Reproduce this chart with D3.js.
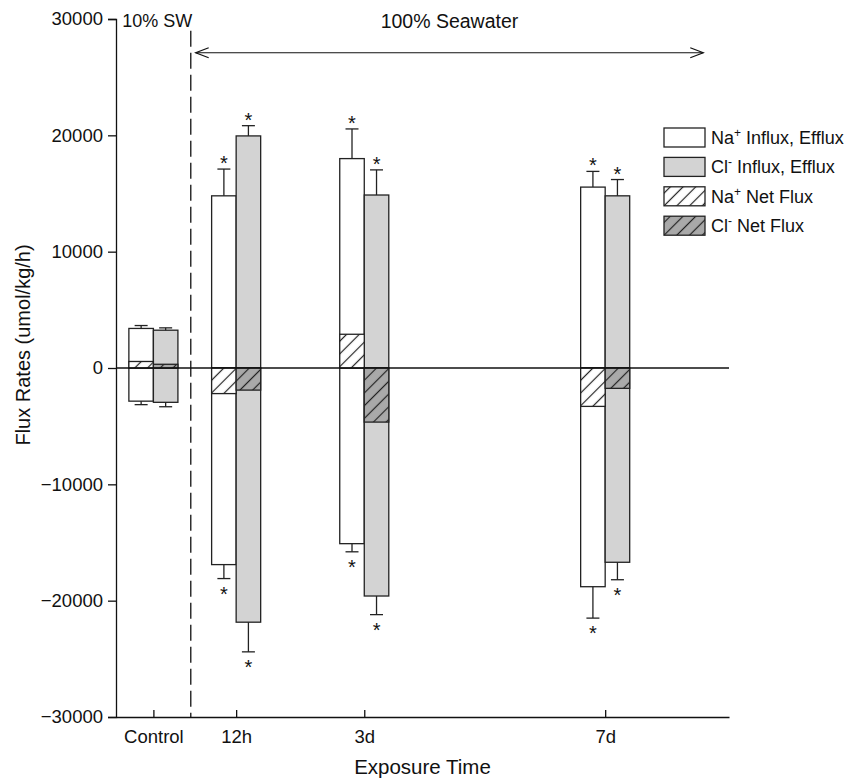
<!DOCTYPE html>
<html>
<head>
<meta charset="utf-8">
<script src="https://cdn.jsdelivr.net/npm/d3@7"></script>
<style>
  body { margin: 0; background: #fff; }
  text { font-family: "Liberation Sans", Arial, Helvetica, sans-serif; fill: #111; }
</style>
</head>
<body>
<div id="chart"></div>
<script>
// data (umol/kg/h)
var groups = ["Control", "12h", "3d", "7d"];
var groupPos = [0.61, 1.96, 4.05, 7.98];   // position of each group on the time axis
var naInflux = [3400, 14800, 18000, 15550];
var naInfluxErr = [250, 2300, 2550, 1350];
var naEfflux = [-2850, -16900, -15100, -18800];
var naEffluxErr = [300, 1200, 700, 2700];
var clInflux = [3250, 19950, 14870, 14800];
var clInfluxErr = [200, 880, 2160, 1400];
var clEfflux = [-2950, -21850, -19600, -16700];
var clEffluxErr = [380, 2550, 1600, 1500];
var naNet = [560, -2200, 2900, -3300];
var clNet = [320, -1900, -4650, -1750];
var significant = [false, true, true, true];
var yTicks = [-30000, -20000, -10000, 0, 10000, 20000, 30000];
var legendItems = [
  {ion: "Na", sup: "+", label: " Influx, Efflux", fill: "#fff"},
  {ion: "Cl", sup: "-", label: " Influx, Efflux", fill: "#d3d3d3"},
  {ion: "Na", sup: "+", label: " Net Flux", fill: "url(#hatchWhite)"},
  {ion: "Cl", sup: "-", label: " Net Flux", fill: "url(#hatchGray)"}
];

var width = 851, height = 778;
var margin = {top: 19, right: 122, bottom: 61, left: 116};

var svg = d3.select("#chart").append("svg")
  .attr("width", width)
  .attr("height", height);

// hatch patterns
var defs = svg.append("defs");
[["hatchWhite", "#fff"], ["hatchGray", "#a9a9a9"]].forEach(function(p) {
  var pat = defs.append("pattern")
    .attr("id", p[0])
    .attr("patternUnits", "userSpaceOnUse")
    .attr("width", 9).attr("height", 9)
    .attr("patternTransform", "rotate(45)");
  pat.append("rect").attr("width", 9).attr("height", 9).attr("fill", p[1]);
  pat.append("line")
    .attr("x1", 4.5).attr("y1", -1).attr("x2", 4.5).attr("y2", 10)
    .attr("stroke", "#222").attr("stroke-width", 1.2);
});

var x = d3.scaleLinear()
  .domain([0, 10])
  .range([margin.left, width - margin.right]);

var y = d3.scaleLinear()
  .domain([-30000, 30000])
  .range([height - margin.bottom, margin.top]);

var barW = x(0.4) - x(0);

// axes
var yAxis = svg.append("g")
  .attr("transform", "translate(" + margin.left + ",0)")
  .call(d3.axisLeft(y).tickValues(yTicks).tickFormat(d3.format("d")).tickSize(8).tickPadding(5));
yAxis.select(".domain").attr("stroke", "#111").attr("stroke-width", 1.3);
yAxis.selectAll(".tick line").attr("stroke", "#111").attr("stroke-width", 1.3);
yAxis.selectAll("text").style("font-size", "18.5px").attr("fill", "#111");

var xAxis = svg.append("g")
  .attr("transform", "translate(0," + y(-30000) + ")")
  .call(d3.axisBottom(x).tickValues(groupPos).tickFormat(function(d, i) { return groups[i]; })
    .tickSizeInner(-7).tickSizeOuter(0).tickPadding(13));
xAxis.select(".domain").attr("stroke", "#111").attr("stroke-width", 1.3);
xAxis.selectAll(".tick line").attr("stroke", "#111").attr("stroke-width", 1.3);
xAxis.selectAll("text").style("font-size", "18.5px").attr("fill", "#111");

// axis titles
svg.append("text")
  .attr("x", (margin.left + width - margin.right) / 2)
  .attr("y", 774)
  .attr("text-anchor", "middle")
  .style("font-size", "20.5px")
  .text("Exposure Time");

svg.append("text")
  .attr("transform", "translate(30," + 345 + ") rotate(-90)")
  .attr("text-anchor", "middle")
  .style("font-size", "20px")
  .text("Flux Rates (umol/kg/h)");

// seawater divider and arrow
svg.append("line")
  .attr("x1", x(1.22)).attr("x2", x(1.22))
  .attr("y1", y(29000)).attr("y2", y(-30000))
  .attr("stroke", "#111").attr("stroke-width", 1.3)
  .attr("stroke-dasharray", "16,6");

svg.append("text")
  .attr("x", x(0.1)).attr("y", 27)
  .style("font-size", "18px")
  .text("10% SW");

svg.append("text")
  .attr("x", x(5.44)).attr("y", 28)
  .attr("text-anchor", "middle")
  .style("font-size", "19.5px")
  .text("100% Seawater");

var ay = y(27100), ax1 = x(1.3), ax2 = x(9.58);
svg.append("line")
  .attr("x1", ax1).attr("x2", ax2).attr("y1", ay).attr("y2", ay)
  .attr("stroke", "#111").attr("stroke-width", 1.2);
svg.append("path")
  .attr("d", "M" + (ax1 + 13) + "," + (ay - 5) + "L" + ax1 + "," + ay + "L" + (ax1 + 13) + "," + (ay + 5) +
             "M" + (ax2 - 13) + "," + (ay - 5) + "L" + ax2 + "," + ay + "L" + (ax2 - 13) + "," + (ay + 5))
  .attr("fill", "none").attr("stroke", "#111").attr("stroke-width", 1.2);

// bars: Na on the left half of each group, Cl on the right
var bars = [];
groups.forEach(function(g, i) {
  bars.push({i: i, side: -1, v: naInflux[i], err: naInfluxErr[i], fill: "#fff"});
  bars.push({i: i, side: -1, v: naEfflux[i], err: -naEffluxErr[i], fill: "#fff"});
  bars.push({i: i, side: 0, v: clInflux[i], err: clInfluxErr[i], fill: "#d3d3d3"});
  bars.push({i: i, side: 0, v: clEfflux[i], err: -clEffluxErr[i], fill: "#d3d3d3"});
});

function barX(d) { return x(groupPos[d.i]) + d.side * barW; }

svg.selectAll(".bar")
  .data(bars)
  .enter().append("rect")
  .attr("class", "bar")
  .attr("x", barX)
  .attr("y", function(d) { return y(Math.max(0, d.v)); })
  .attr("width", barW)
  .attr("height", function(d) { return Math.abs(y(d.v) - y(0)); })
  .attr("fill", function(d) { return d.fill; })
  .attr("stroke", "#222").attr("stroke-width", 1.3);

// net flux, hatched
var nets = [];
groups.forEach(function(g, i) {
  nets.push({i: i, side: -1, v: naNet[i], fill: "url(#hatchWhite)"});
  nets.push({i: i, side: 0, v: clNet[i], fill: "url(#hatchGray)"});
});

svg.selectAll(".net")
  .data(nets)
  .enter().append("rect")
  .attr("class", "net")
  .attr("x", barX)
  .attr("y", function(d) { return y(Math.max(0, d.v)); })
  .attr("width", barW)
  .attr("height", function(d) { return Math.abs(y(d.v) - y(0)); })
  .attr("fill", function(d) { return d.fill; })
  .attr("stroke", "#222").attr("stroke-width", 1.3);

// error bars
var eb = svg.selectAll(".err")
  .data(bars)
  .enter().append("g")
  .attr("class", "err");
eb.append("line")
  .attr("x1", function(d) { return barX(d) + barW / 2; })
  .attr("x2", function(d) { return barX(d) + barW / 2; })
  .attr("y1", function(d) { return y(d.v); })
  .attr("y2", function(d) { return y(d.v + d.err); })
  .attr("stroke", "#222").attr("stroke-width", 1.3);
eb.append("line")
  .attr("x1", function(d) { return barX(d) + barW / 2 - 6.5; })
  .attr("x2", function(d) { return barX(d) + barW / 2 + 6.5; })
  .attr("y1", function(d) { return y(d.v + d.err); })
  .attr("y2", function(d) { return y(d.v + d.err); })
  .attr("stroke", "#222").attr("stroke-width", 1.3);

// significance stars
svg.selectAll(".star")
  .data(bars.filter(function(d) { return significant[d.i]; }))
  .enter().append("text")
  .attr("class", "star")
  .attr("x", function(d) { return barX(d) + barW / 2; })
  .attr("y", function(d) { return y(d.v + d.err) + (d.v > 0 ? 1 : 22); })
  .attr("text-anchor", "middle")
  .style("font-size", "20px")
  .attr("fill", "#333")
  .text("*");

// zero line
svg.append("line")
  .attr("x1", x(0)).attr("x2", x(10))
  .attr("y1", y(0)).attr("y2", y(0))
  .attr("stroke", "#111").attr("stroke-width", 1.5);

// legend
var legend = svg.append("g").attr("transform", "translate(664,128)");
var li = legend.selectAll(".item")
  .data(legendItems)
  .enter().append("g")
  .attr("transform", function(d, i) { return "translate(0," + i * 29.4 + ")"; });
li.append("rect")
  .attr("width", 41).attr("height", 19)
  .attr("fill", function(d) { return d.fill; })
  .attr("stroke", "#222").attr("stroke-width", 1.3);
var lt = li.append("text")
  .attr("x", 47).attr("y", 16)
  .style("font-size", "18px");
lt.append("tspan").text(function(d) { return d.ion; });
lt.append("tspan")
  .attr("dy", -7)
  .style("font-size", "12px")
  .text(function(d) { return d.sup; });
lt.append("tspan")
  .attr("dy", 7)
  .text(function(d) { return d.label; });
</script>
</body>
</html>
